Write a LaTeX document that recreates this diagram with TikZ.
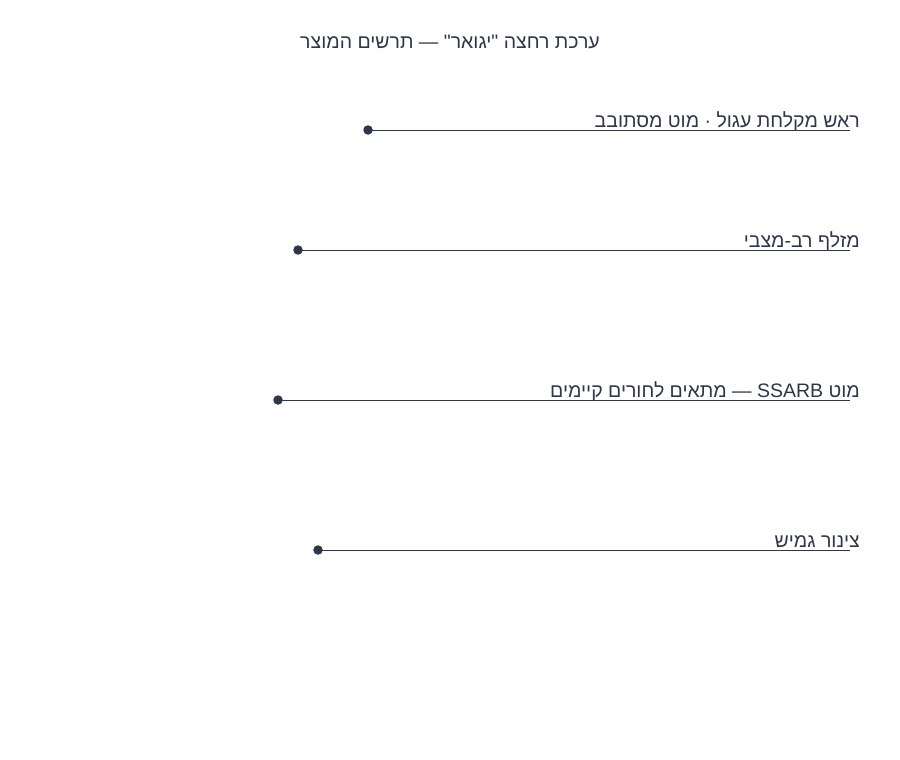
\documentclass[tikz,border=0pt]{standalone}
\usepackage{fontspec}
\setmainfont{Liberation Sans}
\newfontfamily\heb[Script=Hebrew]{Liberation Sans}
\TeXXeTstate=1
\definecolor{ink}{HTML}{2D3748}
\begin{document}
\begin{tikzpicture}[x=1pt,y=-1pt,
  lbl/.style={anchor=base east,inner sep=0pt,text=ink,font=\heb\fontsize{19.5}{22}\selectfont},
  lead/.style={draw=ink,line width=0.9pt},
  dot/.style={circle,fill=ink,inner sep=0pt,minimum size=9.5pt}]
\useasboundingbox (0,0) rectangle (900,760);
\node[anchor=base,inner sep=0pt,text=ink,font=\heb\fontsize{19.5}{22}\selectfont] (title) at (450,49) {\beginR ערכת רחצה "יגואר" — תרשים המוצר\endR};
% item 1
\node[dot] (d1) at (368,130) {};
\coordinate (e1) at (850,130);
\node[lbl] (l1) at (860,127) {\beginR ראש מקלחת עגול · מוט מסתובב\endR};
\draw[lead] (d1.center) -- (e1);
% item 2
\node[dot] (d2) at (298,250) {};
\coordinate (e2) at (850,250);
\node[lbl] (l2) at (860,247) {\beginR מזלף רב-מצבי\endR};
\draw[lead] (d2.center) -- (e2);
% item 3
\node[dot] (d3) at (278,400) {};
\coordinate (e3) at (850,400);
\node[lbl] (l3) at (860,397) {\beginR מוט \beginL SSARB\endL{} — מתאים לחורים קיימים\endR};
\draw[lead] (d3.center) -- (e3);
% item 4
\node[dot] (d4) at (318,550) {};
\coordinate (e4) at (850,550);
\node[lbl] (l4) at (860,547) {\beginR צינור גמיש\endR};
\draw[lead] (d4.center) -- (e4);
\end{tikzpicture}
\end{document}
